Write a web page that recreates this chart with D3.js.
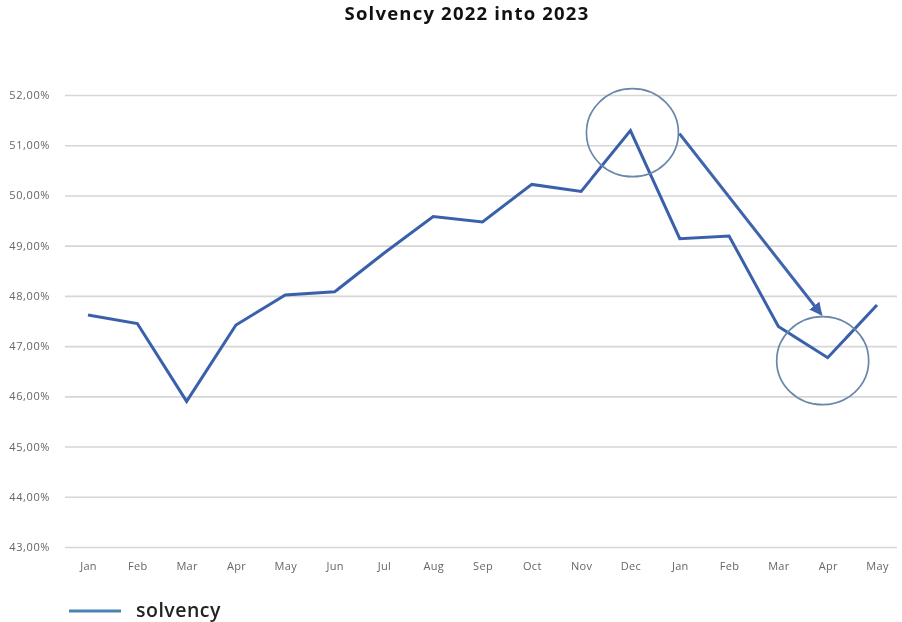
<!DOCTYPE html>
<html>
<head>
<meta charset="utf-8">
<script src="https://cdn.jsdelivr.net/npm/d3@7"></script>
<style>
  html, body { margin: 0; padding: 0; background: #fff; }
  svg { display: block; }
</style>
</head>
<body>
<svg id="chart" width="902" height="622"></svg>
<script>
// Monthly solvency ratio, Jan 2022 through May 2023 (percent)
const months = ["Jan","Feb","Mar","Apr","May","Jun","Jul","Aug","Sep","Oct","Nov","Dec","Jan","Feb","Mar","Apr","May"];
const solvency = [47.62, 47.45, 45.90, 47.42, 48.02, 48.08, 48.85, 49.58, 49.47, 50.22, 50.08, 51.29, 49.14, 49.19, 47.39, 46.77, 47.82];
const yTicks = [43, 44, 45, 46, 47, 48, 49, 50, 51, 52];
// Highlighted points: the December peak and the April low
const highlight = [11, 15];

const svg = d3.select("#chart");

const x = d3.scalePoint()
  .domain(d3.range(months.length))
  .range([88, 877]);
const y = d3.scaleLinear()
  .domain([43, 52])
  .range([547, 95]);

const defs = svg.append("defs");
defs.append("filter").attr("id", "soft")
  .attr("x", "-5%").attr("y", "-5%").attr("width", "110%").attr("height", "110%")
  .append("feGaussianBlur").attr("stdDeviation", 0.7);
defs.append("marker")
  .attr("id", "head")
  .attr("viewBox", "0 0 10 10")
  .attr("refX", 8).attr("refY", 5)
  .attr("markerWidth", 4.3).attr("markerHeight", 4.3)
  .attr("orient", "auto")
  .append("path").attr("d", "M0,0 L10,5 L0,10 Z").attr("fill", "#3f64ad");

const plot = svg.append("g").attr("filter", "url(#soft)");

// Horizontal gridlines with percent labels (comma decimal)
const fmt = v => d3.format(".2f")(v).replace(".", ",") + "%";
const yAxis = d3.axisLeft(y)
  .tickValues(yTicks)
  .tickFormat(fmt)
  .tickSize(-(897 - 65))
  .tickPadding(15);
const gy = plot.append("g").attr("transform", "translate(65,0)").call(yAxis);
gy.select(".domain").remove();
gy.selectAll(".tick line").attr("stroke", "#d6d6d6").attr("stroke-width", 1.6);
gy.selectAll(".tick text")
  .attr("fill", "#666")
  .style("font-family", "'Open Sans', sans-serif")
  .style("font-size", "11px")
  .style("letter-spacing", "0.6px");

// Month labels along the bottom
const xAxis = d3.axisBottom(x)
  .tickFormat(i => months[i])
  .tickSize(0)
  .tickPadding(15);
const gx = plot.append("g").attr("transform", "translate(0,547)").call(xAxis);
gx.select(".domain").remove();
gx.selectAll(".tick text")
  .attr("fill", "#666")
  .style("font-family", "'Open Sans', sans-serif")
  .style("font-size", "11px")
  .style("letter-spacing", "0.3px");

// Solvency line
const line = d3.line()
  .x((d, i) => x(i))
  .y(d => y(d));
plot.append("path")
  .datum(solvency)
  .attr("fill", "none")
  .attr("stroke", "#3b60ab")
  .attr("stroke-width", 3)
  .attr("stroke-linejoin", "miter")
  .attr("d", line);

// Circles around the peak and the low
plot.selectAll("ellipse.mark")
  .data(highlight)
  .join("ellipse")
  .attr("class", "mark")
  .attr("cx", (i, k) => x(i) + (k === 0 ? 2 : -5))
  .attr("cy", (i, k) => y(solvency[i]) + (k === 0 ? 2 : 3))
  .attr("rx", 46)
  .attr("ry", 44)
  .attr("fill", "none")
  .attr("stroke", "#6a86a8")
  .attr("stroke-width", 1.7);

// Trend arrow from the peak down to the low
const a0 = [x(highlight[0]) + 49, y(solvency[highlight[0]]) + 3];
const a1 = [x(highlight[1]) - 7, y(solvency[highlight[1]]) - 44];
plot.append("line")
  .attr("x1", a0[0] + 1.5).attr("y1", a0[1] + 2)
  .attr("x2", a1[0] + 1.5).attr("y2", a1[1] + 2)
  .attr("stroke", "#9aa9c4").attr("stroke-width", 3).attr("opacity", 0.5);
plot.append("line")
  .attr("x1", a0[0]).attr("y1", a0[1])
  .attr("x2", a1[0]).attr("y2", a1[1])
  .attr("stroke", "#3f64ad")
  .attr("stroke-width", 3)
  .attr("marker-end", "url(#head)");

// Title
svg.append("text")
  .attr("x", 467).attr("y", 20)
  .attr("text-anchor", "middle")
  .attr("fill", "#111")
  .style("font-family", "'Open Sans', sans-serif")
  .style("font-weight", 700)
  .style("font-size", "18.5px")
  .style("letter-spacing", "1.2px")
  .text("Solvency 2022 into 2023");

// Legend
const legend = svg.append("g");
legend.append("line")
  .attr("x1", 69).attr("x2", 121)
  .attr("y1", 611).attr("y2", 611)
  .attr("stroke", "#4a82b4").attr("stroke-width", 3);
legend.append("text")
  .attr("x", 136).attr("y", 617)
  .attr("fill", "#222")
  .style("font-family", "'Open Sans', sans-serif")
  .style("font-weight", 600)
  .style("font-size", "19.5px")
  .style("letter-spacing", "0.5px")
  .text("solvency");
</script>
</body>
</html>
